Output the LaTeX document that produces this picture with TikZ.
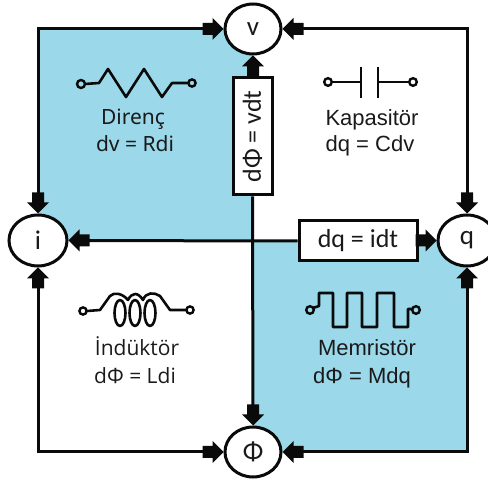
\documentclass[tikz,border=0pt]{standalone}
\usepackage{fontspec}
\setmainfont{Liberation Sans}
\newfontfamily\opensans{Open Sans}
\newfontfamily\robotoish{Noto Sans}
\newfontfamily\calib{Carlito}
\usetikzlibrary{shapes.geometric,calc}
\definecolor{panel}{HTML}{9AD8EA}
\definecolor{ink}{HTML}{0A0A0A}
\definecolor{txt}{HTML}{1A1A1A}
\tikzset{
  x=1pt,y=-1pt,
  wire/.style={draw=ink,line width=3pt,line join=miter,shorten >=6pt,shorten <=6pt},
  stub/.style={draw=ink,line width=3pt,shorten >=6pt},
  blockhead/.pic={\fill[ink] (0,0) -- (-11,11) -- (-11,6) -- (-21,6) -- (-21,-6) -- (-11,-6) -- (-11,-11) -- cycle;},
  varnode/.style={ellipse,draw=ink,fill=white,line width=3pt,inner sep=0pt,font=\calib\fontsize{27}{27}\selectfont,text=txt},
  eqbox/.style={rectangle,draw=ink,fill=white,line width=3pt,inner sep=0pt,font=\calib\fontsize{26}{26}\selectfont,text=txt},
  lab/.style={anchor=base,inner sep=0pt,font=\fontsize{22}{22}\selectfont,text=txt},
  sym/.style={draw=ink,line width=2.6pt,line join=round},
  term/.style={draw=ink,line width=2.4pt,fill=none},
}
\begin{document}
\begin{tikzpicture}
\useasboundingbox (0,0) rectangle (488,481);
\clip (0,0) rectangle (488,481);
\fill[panel] (38,29) rectangle (253,240);
\fill[panel] (253,240) rectangle (467,452);
\node[varnode,minimum width=56pt,minimum height=50pt] (v) at (253,29) {v};
\node[varnode,minimum width=58pt,minimum height=51pt] (i) at (38,240.5) {i};
\node[varnode,minimum width=58pt,minimum height=51pt] (q) at (467,240.5) {q};
\node[varnode,minimum width=56pt,minimum height=50pt] (phi) at (253,452) {Φ};
\node[eqbox,rotate=90,minimum width=117pt,minimum height=39pt] (vdt) at (252.5,136.5) {dΦ = vdt};
\node[eqbox,minimum width=118pt,minimum height=40pt] (idt) at (358,241) {dq = idt};
\draw[wire] (i.north) |- (v.west);
\draw[wire] (q.north) |- (v.east);
\draw[wire] (i.south) |- (phi.west);
\draw[wire] (q.south) |- (phi.east);
\draw[stub] (idt.west) -- (i.east);
\draw[stub] (vdt.west) -- (phi.north);
\draw[stub] (vdt.east) -- (v.south);
\draw[stub] (idt.east) -- (q.west);
\pic[rotate=0] at (v.west) {blockhead};
\pic[rotate=180] at (v.east) {blockhead};
\pic[rotate=90] at (v.south) {blockhead};
\pic[rotate=-90] at (i.north) {blockhead};
\pic[rotate=90] at (i.south) {blockhead};
\pic[rotate=180] at (i.east) {blockhead};
\pic[rotate=-90] at (q.north) {blockhead};
\pic[rotate=90] at (q.south) {blockhead};
\pic[rotate=0] at (q.west) {blockhead};
\pic[rotate=0] at (phi.west) {blockhead};
\pic[rotate=180] at (phi.east) {blockhead};
\pic[rotate=-90] at (phi.north) {blockhead};
% resistor
\draw[sym] (85,84) -- (99,83) -- (108,69) -- (126,97) -- (144,69) -- (162,97) -- (172,83) -- (188,83);
\draw[term] (81,84) circle (4);
\draw[term] (192,83) circle (3.6);
% capacitor
\draw[sym] (332,82) -- (361,82) (361,67) -- (361,98) (378,67) -- (378,98) (378,82) -- (409,82);
\draw[term] (328,82) circle (3.8);
\draw[term] (413,82) circle (3.8);
% inductor
\draw[sym] (87,311) -- (100,310) -- (110,296) .. controls (114,292) and (122,293) .. (128,300) .. controls (132,292) and (138,292) .. (143,300) .. controls (146,292) and (154,292) .. (160,296) -- (170,310) -- (186,310);
\draw[sym] (120,313) ellipse (5.5 and 13);
\draw[sym] (135,313) ellipse (5.5 and 13);
\draw[sym] (150,313) ellipse (5.5 and 13);
\draw[term] (83,311) circle (3.6);
\draw[term] (190,310) circle (3.6);
% memristor
\draw[sym] (313,308) -- (319,306) -- (319,293) -- (333,293) -- (333,327) -- (347,327) -- (347,293) -- (362,293) -- (362,327) -- (377,327) -- (377,293) -- (394,293) -- (394,327) -- (408,327) -- (408,309) -- (412,309);
\draw[term] (310,310) circle (3.8);
\draw[term] (416,310) circle (3.8);
% labels
\node[lab,font=\robotoish\fontsize{21}{21}\selectfont] (t1) at (133,125) {Direnç};
\node[lab,font=\robotoish\fontsize{21}{21}\selectfont] (t2) at (135,152) {dv = Rdi};
\node[lab] (t3) at (372,126) {Kapasitör};
\node[lab] (t4) at (370,152) {dq = Cdv};
\node[lab,font=\opensans\fontsize{21}{21}\selectfont] (t5) at (137,356) {İndüktör};
\node[lab,font=\opensans\fontsize{21}{21}\selectfont] (t6) at (135,384) {dΦ = Ldi};
\node[lab] (t7) at (367,356) {Memristör};
\node[lab] (t8) at (362,384) {dΦ = Mdq};
\end{tikzpicture}
\end{document}
